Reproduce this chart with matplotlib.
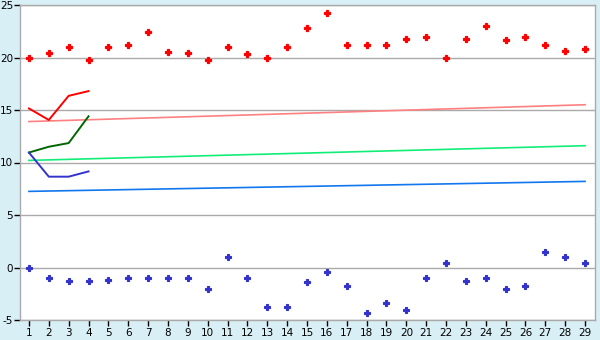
import matplotlib
matplotlib.use("Agg")
import matplotlib.pyplot as plt

x = list(range(1, 30))
red_points = [20.0, 20.4, 21.0, 19.8, 21.0, 21.2, 22.4, 20.5, 20.4, 19.8,
              21.0, 20.3, 20.0, 21.0, 22.8, 24.2, 21.2, 21.2, 21.2, 21.8,
              22.0, 20.0, 21.8, 23.0, 21.7, 22.0, 21.2, 20.6, 20.8]
blue_points = [0.0, -1.0, -1.3, -1.3, -1.15, -1.0, -1.0, -1.0, -1.0, -2.0,
               1.0, -1.0, -3.8, -3.8, -1.35, -0.4, -1.75, -4.3, -3.35, -4.0,
               -1.0, 0.4, -1.3, -1.0, -2.0, -1.8, 1.45, 1.0, 0.4]
line_x = [1, 2, 3, 4]
red_line = [15.15, 14.05, 16.35, 16.8]
green_line = [10.95, 11.5, 11.85, 14.4]
blue_line = [10.95, 8.65, 8.65, 9.15]
trend_x = [1, 29]
pink_trend = [13.9, 15.5]
mint_trend = [10.2, 11.6]
sky_trend = [7.25, 8.2]
yticks = [-5, 0, 5, 10, 15, 20, 25]

bg = '#d9eff6'
fig = plt.figure(figsize=(6, 3.4), dpi=100, facecolor=bg)
ax = fig.add_axes([20/600, 1-320/340, 575/600, 315/340])
ax.set_facecolor('white')

for y in yticks:
    ax.axhline(y, color='#aaaaaa', lw=1, zorder=1)

ax.plot(trend_x, pink_trend, color='#ff8080', lw=1.2, zorder=2)
ax.plot(trend_x, mint_trend, color='#11ee77', lw=1.2, zorder=2)
ax.plot(trend_x, sky_trend, color='#1177ee', lw=1.2, zorder=2)

ax.plot(line_x, red_line, color='#ff0000', lw=1.4, zorder=3)
ax.plot(line_x, green_line, color='#006600', lw=1.4, zorder=3)
ax.plot(line_x, blue_line, color='#3333cc', lw=1.4, zorder=3)

ax.plot(x, red_points, ls='none', marker='P', ms=4.2, color='#ff0000', mew=0.9, zorder=4)
ax.plot(x, blue_points, ls='none', marker='P', ms=4.0, color='#3333cc', mew=0.8, zorder=4)

ax.set_xlim(0.55, 29.5)
ax.set_ylim(-5, 25)
ax.set_xticks(x)
ax.set_yticks(yticks)
ax.set_yticklabels([str(v) for v in yticks])
for s in ax.spines.values():
    s.set_color('#aaaaaa')
    s.set_linewidth(1)
ax.tick_params(axis='both', colors='black', labelsize=7.5, length=4, width=1)
ax.tick_params(axis='y', pad=1)
ax.tick_params(axis='x', pad=2)

fig.savefig('out.png', dpi=100, facecolor=bg)
